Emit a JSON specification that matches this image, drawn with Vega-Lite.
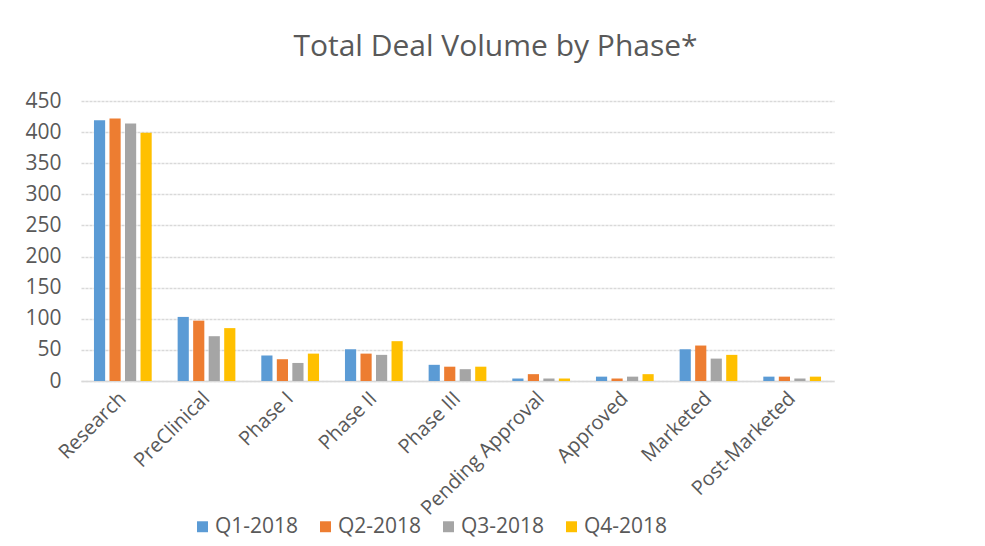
{
  "$schema": "https://vega.github.io/schema/vega-lite/v6.json",
  "width": 753,
  "height": 280,
  "autosize": {"type": "none"},
  "padding": {"left": 81, "top": 101, "right": 151, "bottom": 165},
  "background": "white",
  "title": {
    "text": "Total Deal Volume by Phase*",
    "fontSize": 30,
    "font": "Open Sans",
    "fontWeight": "normal",
    "color": "#595959",
    "anchor": "middle",
    "dx": 38,
    "offset": 28
  },
  "data": {
    "values": [
      {"phase": "Research", "quarter": "Q1-2018", "deals": 419},
      {"phase": "Research", "quarter": "Q2-2018", "deals": 422},
      {"phase": "Research", "quarter": "Q3-2018", "deals": 414},
      {"phase": "Research", "quarter": "Q4-2018", "deals": 399},
      {"phase": "PreClinical", "quarter": "Q1-2018", "deals": 103},
      {"phase": "PreClinical", "quarter": "Q2-2018", "deals": 97},
      {"phase": "PreClinical", "quarter": "Q3-2018", "deals": 72},
      {"phase": "PreClinical", "quarter": "Q4-2018", "deals": 85},
      {"phase": "Phase I", "quarter": "Q1-2018", "deals": 41},
      {"phase": "Phase I", "quarter": "Q2-2018", "deals": 35},
      {"phase": "Phase I", "quarter": "Q3-2018", "deals": 29},
      {"phase": "Phase I", "quarter": "Q4-2018", "deals": 44},
      {"phase": "Phase II", "quarter": "Q1-2018", "deals": 51},
      {"phase": "Phase II", "quarter": "Q2-2018", "deals": 44},
      {"phase": "Phase II", "quarter": "Q3-2018", "deals": 42},
      {"phase": "Phase II", "quarter": "Q4-2018", "deals": 64},
      {"phase": "Phase III", "quarter": "Q1-2018", "deals": 26},
      {"phase": "Phase III", "quarter": "Q2-2018", "deals": 23},
      {"phase": "Phase III", "quarter": "Q3-2018", "deals": 19},
      {"phase": "Phase III", "quarter": "Q4-2018", "deals": 23},
      {"phase": "Pending Approval", "quarter": "Q1-2018", "deals": 4},
      {"phase": "Pending Approval", "quarter": "Q2-2018", "deals": 11},
      {"phase": "Pending Approval", "quarter": "Q3-2018", "deals": 4},
      {"phase": "Pending Approval", "quarter": "Q4-2018", "deals": 4},
      {"phase": "Approved", "quarter": "Q1-2018", "deals": 7},
      {"phase": "Approved", "quarter": "Q2-2018", "deals": 4},
      {"phase": "Approved", "quarter": "Q3-2018", "deals": 7},
      {"phase": "Approved", "quarter": "Q4-2018", "deals": 11},
      {"phase": "Marketed", "quarter": "Q1-2018", "deals": 51},
      {"phase": "Marketed", "quarter": "Q2-2018", "deals": 57},
      {"phase": "Marketed", "quarter": "Q3-2018", "deals": 36},
      {"phase": "Marketed", "quarter": "Q4-2018", "deals": 42},
      {"phase": "Post-Marketed", "quarter": "Q1-2018", "deals": 7},
      {"phase": "Post-Marketed", "quarter": "Q2-2018", "deals": 7},
      {"phase": "Post-Marketed", "quarter": "Q3-2018", "deals": 4},
      {"phase": "Post-Marketed", "quarter": "Q4-2018", "deals": 7}
    ]
  },
  "mark": {"type": "bar"},
  "encoding": {
    "x": {
      "field": "phase",
      "type": "nominal",
      "sort": ["Research", "PreClinical", "Phase I", "Phase II", "Phase III", "Pending Approval", "Approved", "Marketed", "Post-Marketed"],
      "scale": {"paddingInner": 0.31, "paddingOuter": 0.155},
      "axis": {
        "title": null,
        "labelAngle": -45,
        "labelAlign": "right",
        "labelBaseline": "middle",
        "labelFontSize": 20,
        "labelFont": "Open Sans",
        "labelColor": "#595959",
        "labelPadding": 14,
        "labelLimit": 300,
        "ticks": false,
        "domainColor": "#d9d9d9",
        "domainWidth": 1.5,
        "grid": false
      }
    },
    "xOffset": {
      "field": "quarter",
      "type": "nominal",
      "scale": {"paddingInner": 0.28}
    },
    "y": {
      "field": "deals",
      "type": "quantitative",
      "scale": {"domain": [0, 450]},
      "axis": {
        "title": null,
        "values": [0, 50, 100, 150, 200, 250, 300, 350, 400, 450],
        "labelFontSize": 21,
        "labelFont": "Open Sans",
        "labelColor": "#595959",
        "labelPadding": 20,
        "ticks": false,
        "domain": false,
        "gridColor": "#d9d9d9",
        "gridWidth": 1.5,
        "gridDash": [3, 1]
      }
    },
    "color": {
      "field": "quarter",
      "type": "nominal",
      "scale": {
        "domain": ["Q1-2018", "Q2-2018", "Q3-2018", "Q4-2018"],
        "range": ["#5B9BD5", "#ED7D31", "#A5A5A5", "#FFC000"]
      },
      "legend": {
        "title": null,
        "orient": "none",
        "direction": "horizontal",
        "legendX": 111,
        "legendY": 415,
        "symbolType": "square",
        "symbolSize": 120,
        "symbolStrokeWidth": 0,
        "labelFontSize": 21,
        "labelFont": "Open Sans",
        "labelColor": "#595959",
        "labelOffset": 2,
        "columnPadding": 16
      }
    }
  },
  "config": {
    "view": {"stroke": null}
  }
}
